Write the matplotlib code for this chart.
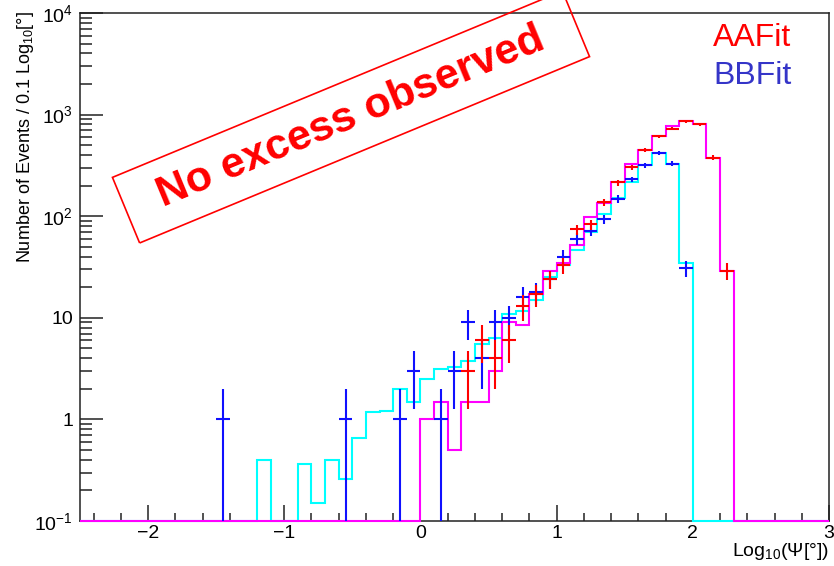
import numpy as np
import matplotlib
matplotlib.use("Agg")
import matplotlib.pyplot as plt
from matplotlib.ticker import MultipleLocator, LogLocator, NullFormatter, FixedLocator, FixedFormatter
from matplotlib.patches import Rectangle

plt.rcParams['font.family'] = ['Liberation Sans', 'DejaVu Sans']
plt.rcParams['mathtext.fontset'] = 'custom'
plt.rcParams['mathtext.rm'] = 'Liberation Sans'
plt.rcParams['mathtext.it'] = 'Liberation Sans:italic'
plt.rcParams['mathtext.bf'] = 'Liberation Sans:bold'

# histogram binning: 0.1 in log10(psi)
bin_width = 0.1
edges = np.round(np.arange(-2.5, 3.0 + 1e-9, bin_width), 2)

# AAFit simulation (magenta), bins starting at 0.0
aa_mc_start = 0.0
aa_mc = [1.0, 1.5, 0.5, 1.5, 1.5, 3.0, 9.0, 8.5, 17, 29, 35, 52, 98, 135,
         215, 330, 450, 613, 765, 860, 800, 377, 29]

# BBFit simulation (cyan), bins starting at -1.2
bb_mc_start = -1.2
bb_mc = [0.4, 0, 0, 0.36, 0.15, 0.4, 0.26, 0.66, 1.17, 1.2, 2.0, 1.5, 2.5,
         3.1, 3.25, 3.8, 5.5, 6.4, 11, 11.7, 15, 25, 33, 47, 70, 106, 152,
         215, 316, 418, 330, 35]

# AAFit data (red), bin centres and counts
aa_x = [0.35, 0.45, 0.55, 0.65, 0.75, 0.85, 0.95, 1.05, 1.15, 1.25, 1.35,
        1.45, 1.55, 1.65, 1.75, 1.85, 1.95, 2.05, 2.15, 2.25]
aa_n = [3, 6, 4, 6, 13, 17, 24, 33, 74, 83, 137, 215, 304, 450, 610, 730,
        860, 800, 377, 29]

# BBFit data (blue)
bb_x = [-1.45, -0.55, -0.15, -0.05, 0.15, 0.25, 0.35, 0.45, 0.55, 0.65,
        0.75, 0.85, 0.95, 1.05, 1.15, 1.25, 1.35, 1.45, 1.55, 1.65, 1.75,
        1.85, 1.95]
bb_n = [1, 1, 1, 3, 1, 3, 9, 4, 9, 10, 16, 18, 24, 40, 60, 72, 93, 148,
        230, 316, 418, 330, 31]

ymin, ymax = 0.1, 1e4
ytick_vals = [0.1, 1, 10, 100, 1000, 10000]
ytick_labels = ['$10^{-1}$', '1', '10', '$10^{2}$', '$10^{3}$', '$10^{4}$']
xtick_vals = [-2, -1, 0, 1, 2, 3]


def fill_bins(start, vals):
    full = np.zeros(len(edges) - 1)
    i0 = int(round((start - edges[0]) / bin_width))
    full[i0:i0 + len(vals)] = vals
    return np.maximum(full, ymin)


def draw_points(x, n, color):
    x = np.asarray(x, float)
    n = np.asarray(n, float)
    err = np.sqrt(n)
    lo = n - np.maximum(n - err, 0.03)
    ax.errorbar(x, n, xerr=bin_width / 2, yerr=[lo, err], fmt='none',
                ecolor=color, elinewidth=1.5, capsize=0, zorder=4)


fig = plt.figure(figsize=(8.34, 5.66), dpi=100)
ax = fig.add_axes([0.0959, 0.0795, 0.8981, 0.8975])
ax.set_yscale('log')

ax.stairs(fill_bins(bb_mc_start, bb_mc), edges, color='#00ffff', lw=1.5,
          baseline=None, zorder=3, clip_on=False)
ax.stairs(fill_bins(aa_mc_start, aa_mc), edges, color='#ff00ff', lw=1.5,
          baseline=None, zorder=3, clip_on=False)
draw_points(bb_x, bb_n, '#1010ff')
draw_points(aa_x, aa_n, '#ff0000')

ax.set_xlim(-2.5, 3)
ax.set_ylim(ymin, ymax)

ax.xaxis.set_major_locator(FixedLocator(xtick_vals))
ax.xaxis.set_minor_locator(MultipleLocator(0.2))
ax.yaxis.set_major_locator(FixedLocator(ytick_vals))
ax.yaxis.set_major_formatter(FixedFormatter(ytick_labels))
ax.yaxis.set_minor_locator(LogLocator(base=10, subs=np.arange(2, 10)))
ax.yaxis.set_minor_formatter(NullFormatter())

ax.tick_params(which='both', direction='in', top=False, right=False,
               width=1.1, labelsize=14, color='#222222')
ax.tick_params(axis='x', which='major', length=11.5, pad=3)
ax.tick_params(axis='x', which='minor', length=5.8)
ax.tick_params(axis='y', which='major', length=16.5, pad=5)
ax.tick_params(axis='y', which='minor', length=8.6)
for s in ax.spines.values():
    s.set_linewidth(1.1)
    s.set_color('#222222')

fig.text(0.994, 0.018, r'Log$_{10}$($\Psi$[°])', ha='right', va='baseline',
         fontsize=14)
fig.text(0.030, 0.98, r'Number of Events / 0.1 Log$_{10}$[°]', rotation=90,
         ha='center', va='top', fontsize=13)

fig.text(0.855, 0.918, 'AAFit', color='#ff0000', fontsize=23, ha='left',
         va='baseline')
fig.text(0.855, 0.851, 'BBFit', color='#3535c8', fontsize=23, ha='left',
         va='baseline')

# "No excess observed" stamp
ang = 22.5
cx, cy = 3.51, 5.66 - 1.17
bw, bh = 4.87, 0.71
box = Rectangle((cx - bw / 2, cy - bh / 2), bw, bh, angle=ang,
                rotation_point='center', transform=fig.dpi_scale_trans,
                fill=False, edgecolor='#ff0000', lw=1.2)
fig.add_artist(box)
fig.text(cx / 8.34, cy / 5.66, 'No excess observed', rotation=ang,
         rotation_mode='anchor', ha='center', va='center', fontsize=31,
         fontweight='bold', color='#ff0000')

fig.savefig('out.png', dpi=100)
